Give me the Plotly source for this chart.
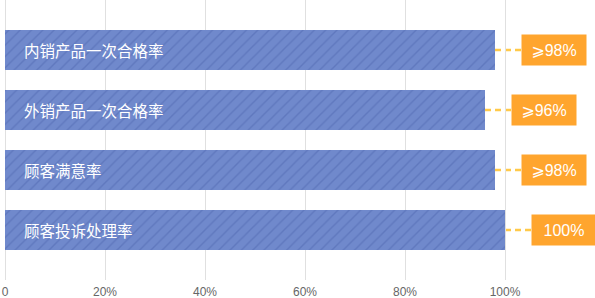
import plotly.graph_objects as go

categories = ["内销产品一次合格率", "外销产品一次合格率", "顾客满意率", "顾客投诉处理率"]
values = [98, 96, 98, 100]
value_labels = ["⩾98%", "⩾96%", "⩾98%", "100%"]
tick_vals = [0, 20, 40, 60, 80, 100]
tick_text = ["0", "20%", "40%", "60%", "80%", "100%"]

W, H = 595, 298
ML, MR, MT, MB = 5, 0, 0, 18
XMAX = 118
px_per_unit = (W - ML - MR) / XMAX
gap_units = 26 / px_per_unit

ypos = list(range(len(categories)))

fig = go.Figure()
fig.add_trace(go.Bar(
    x=values, y=ypos, orientation="h", width=40 / 60,
    marker=dict(color="#7089cc", line=dict(width=0),
                pattern=dict(shape="/", fgcolor="#5068b0", bgcolor="#7089cc",
                             size=8, solidity=0.18)),
    hoverinfo="skip", showlegend=False,
))

annotations = []
shapes = []
for i, (c, v, lab) in enumerate(zip(categories, values, value_labels)):
    annotations.append(dict(x=0, y=i, xref="x", yref="y", text=c, showarrow=False,
                            xanchor="left", yanchor="middle", xshift=17,
                            font=dict(size=15.5, color="white",
                                      family="Noto Sans CJK SC, sans-serif")))
    annotations.append(dict(x=v + gap_units, y=i, xref="x", yref="y", text=lab,
                            showarrow=False, xanchor="left", yanchor="middle",
                            width=64, height=30, bgcolor="#ffa52e", borderpad=0,
                            align="center",
                            font=dict(size=16, color="white",
                                      family="Liberation Sans, DejaVu Sans, sans-serif")))
    shapes.append(dict(type="line", xref="x", yref="y", x0=v, x1=v + gap_units,
                       y0=i, y1=i, line=dict(color="#ffc94a", width=2.5, dash="6px,4px"),
                       layer="below"))

fig.update_layout(
    width=W, height=H,
    margin=dict(l=ML, r=MR, t=MT, b=MB, autoexpand=False),
    paper_bgcolor="white", plot_bgcolor="white",
    annotations=annotations, shapes=shapes,
    xaxis=dict(range=[0, XMAX], tickvals=tick_vals, ticktext=tick_text,
               showgrid=True, gridcolor="#e0e0e0", gridwidth=1, zeroline=True,
               zerolinecolor="#e0e0e0", zerolinewidth=1, showline=False,
               tickfont=dict(size=12, color="#666666",
                             family="Liberation Sans, Arial, sans-serif"),
               ticks="", ticklabelstandoff=3, automargin=False, fixedrange=True),
    yaxis=dict(range=[len(categories) - 1 + 50 / 60, -50 / 60], showgrid=False,
               zeroline=False, showticklabels=False, showline=False,
               automargin=False, fixedrange=True),
    bargap=0,
)

fig.write_html("out.html", config={"displayModeBar": False})
